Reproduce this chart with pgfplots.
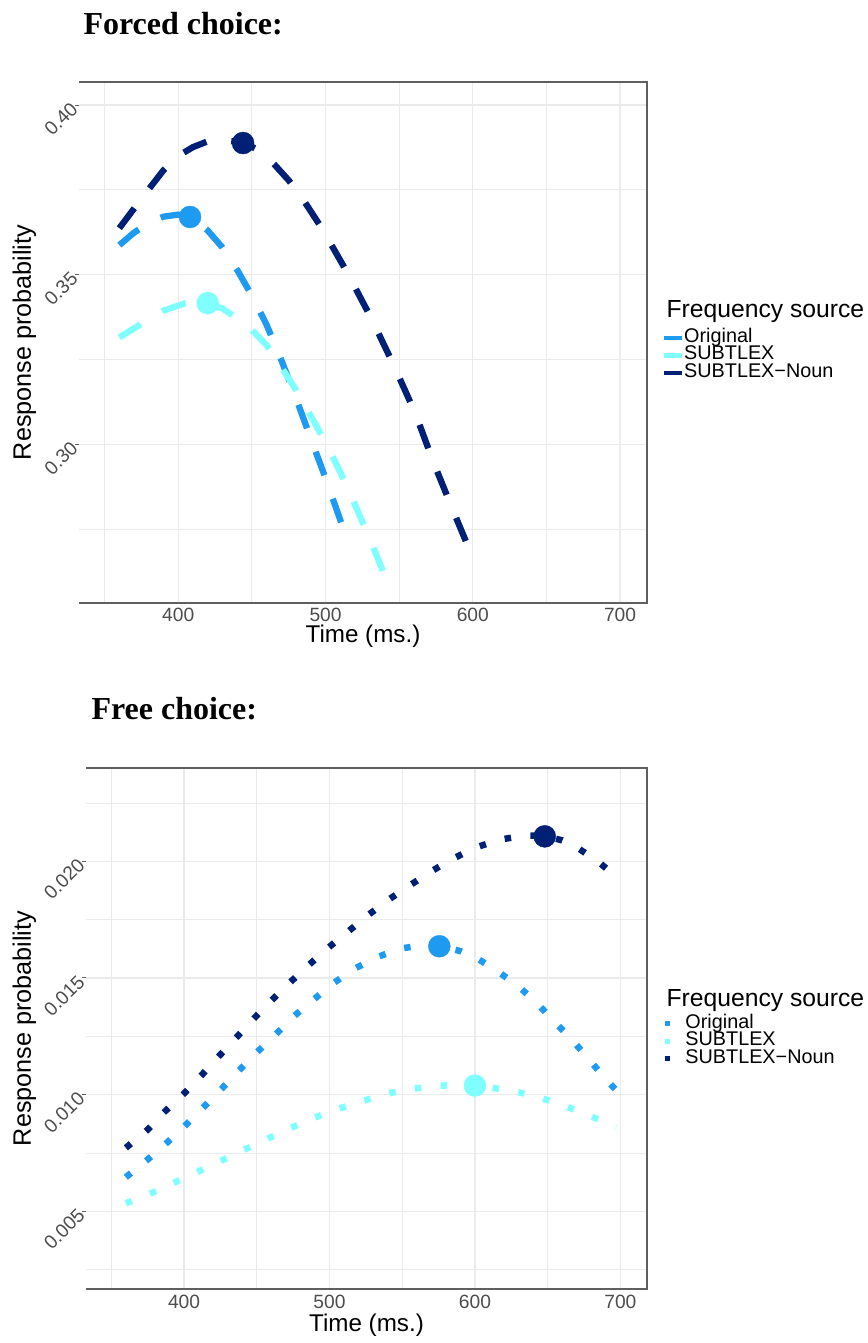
\documentclass[border=0pt]{standalone}
\usepackage{fontspec}
\setmainfont{Liberation Sans}
\newfontfamily\titlefont{Liberation Serif}
\usepackage{pgfplots}
\pgfplotsset{compat=1.18}

\definecolor{cOrig}{RGB}{30,155,240}
\definecolor{cSub}{RGB}{128,255,255}
\definecolor{cNoun}{RGB}{0,32,118}
\definecolor{gridc}{RGB}{235,235,235}
\definecolor{tickc}{RGB}{77,77,77}
\definecolor{framec}{RGB}{95,95,95}

\tikzset{panelframe/.style={draw=framec, line width=1.3pt}}

\pgfplotsset{
  panel/.style={
    scale only axis,
    height=521pt,
    xmin=332.6, xmax=718.3,
    xtick={400,500,600,700},
    xticklabels={400,500,600,700},
    minor xtick={350,450,550,650},
    scaled ticks=false,
    grid=both,
    major grid style={draw=gridc, line width=1.3pt},
    minor grid style={draw=gridc, line width=0.8pt},
    axis line style={draw=none},
    tick align=outside,
    tick pos=left,
    major tick length=4pt, minor tick length=0pt,
    xtick style={draw=none},
    ytick style={draw=framec, line width=1pt},
    tick label style={font=\fontsize{19.2}{20}\selectfont, text=tickc},
    xticklabel style={anchor=base, yshift=-15pt},
    yticklabel style={rotate=45, anchor=east, inner sep=1pt},
    xlabel={Time (ms.)},
    ylabel={Response probability},
    xlabel style={font=\fontsize{24.2}{26}\selectfont},
    ylabel style={font=\fontsize{25.2}{27}\selectfont},
    clip mode=individual,
    legend cell align=left,
    legend style={at={(axis description cs:1,1)}, anchor=north west,
      xshift=15pt, yshift=-247pt, draw=none, fill=none,
      inner sep=0pt, row sep=0pt, column sep=0pt,
      font=\fontsize{19.8}{19.8}\selectfont,
      nodes={inner sep=0pt, text height=13pt, text depth=4.5pt}},
  },
  dashedcurve/.style={line width=6.3pt, dash pattern=on 25pt off 25pt, no marks},
  dottedcurve/.style={line width=6.5pt, dash pattern=on 6.5pt off 19.5pt, no marks},
  peak/.style={only marks, mark=*, mark size=11pt, forget plot},
}

% Forced choice: fitted response curves
\pgfplotstableread{
t p
360 0.3587
370 0.3624
380 0.3653
390 0.3671
400 0.3677
410 0.3667
420 0.3630
430 0.3580
440 0.3514
450 0.3438
460 0.3352
470 0.3248
480 0.3135
490 0.3017
500 0.2900
513 0.2740
}\forcedOrig
\pgfplotstableread{
t p
360 0.3315
375 0.3355
390 0.3394
405 0.3416
420 0.3417
430 0.3400
440 0.3372
450 0.3337
460 0.3292
470 0.3227
480 0.3160
490 0.3084
500 0.3005
510 0.2918
520 0.2822
530 0.2722
540 0.2615
}\forcedSub
\pgfplotstableread{
t p
360 0.3637
370 0.3695
380 0.3752
390 0.3808
400 0.3850
410 0.3876
420 0.3893
430 0.3896
444 0.3890
455 0.3866
465 0.3826
475 0.3778
485 0.3720
497 0.3640
505 0.3580
515 0.3504
531 0.3372
546 0.3236
561 0.3091
573 0.2950
586 0.2811
600 0.2665
}\forcedNoun

% Free choice: fitted response curves
\pgfplotstableread{
t p
360 0.00646
375 0.00722
388.6 0.00796
401 0.00869
414 0.00950
426 0.01026
438 0.01105
450 0.01181
463 0.01258
475.5 0.01336
489 0.01407
503 0.01479
517 0.01539
533 0.01590
549 0.01626
563 0.01640
576 0.01638
590 0.01615
601 0.01586
615.5 0.01529
630 0.01464
643 0.01390
655 0.01310
667 0.01233
679 0.01147
690 0.01065
697 0.01020
}\freeOrig
\pgfplotstableread{
t p
360 0.00534
378 0.00579
394 0.00625
410 0.00671
426 0.00718
442 0.00766
458 0.00813
474 0.00859
490 0.00902
505 0.00937
520 0.00967
540 0.01005
557 0.01025
575 0.01039
600 0.01040
627 0.01015
644 0.00989
661 0.00953
677 0.00915
694 0.00868
697 0.00860
}\freeSub
\pgfplotstableread{
t p
360 0.00772
375 0.00850
387 0.00929
400 0.01005
412 0.01083
424 0.01165
436 0.01245
448 0.01326
460 0.01403
473 0.01482
486 0.01557
499 0.01629
513 0.01700
526 0.01767
540 0.01833
555 0.01896
570 0.01957
585 0.02012
601 0.02060
617 0.02093
635 0.02111
648 0.02108
660 0.02090
669 0.02064
684 0.02002
697 0.01935
}\freeNoun

\begin{document}
\begin{tikzpicture}[x=1pt, y=1pt]
\useasboundingbox (0,0) rectangle (867,1343);

\node[anchor=base west, font=\titlefont\bfseries\fontsize{32}{36}\selectfont]
  at (80,1308) {Forced choice:};
\node[anchor=base west, font=\titlefont\bfseries\fontsize{32}{36}\selectfont]
  at (88,623) {Free choice:};

\node[anchor=base west, font=\fontsize{24.7}{26}\selectfont] at (663,1025) {Frequency source};
\node[anchor=base west, font=\fontsize{24.7}{26}\selectfont] at (663,336.3) {Frequency source};

% Forced choice panel
\begin{axis}[panel,
  at={(79pt,740pt)}, anchor=south west,
  width=568pt,
  ymin=0.2532, ymax=0.4068,
  ytick={0.30,0.35,0.40}, yticklabels={0.30,0.35,0.40},
  minor ytick={0.275,0.325,0.375},
  xlabel style={at={([yshift=-40pt]axis description cs:0.5,0)}, anchor=base},
  ylabel style={at={([xshift=-48pt]axis description cs:0,0.5)}, anchor=base},
  legend image code/.code={\draw[solid, line width=4.5pt] (0pt,0pt) -- (17.5pt,0pt);},
]
\addplot[cOrig, dashedcurve] table[x=t, y=p] {\forcedOrig};
\addlegendentry{Original}
\addplot[cSub, dashedcurve] table[x=t, y=p] {\forcedSub};
\addlegendentry{SUBTLEX}
\addplot[cNoun, dashedcurve] table[x=t, y=p] {\forcedNoun};
\addlegendentry{SUBTLEX−Noun}
\addplot[cOrig, peak] coordinates {(408,0.3670)};
\addplot[cSub, peak] coordinates {(420,0.3416)};
\addplot[cNoun, peak] coordinates {(444,0.3888)};
\draw[panelframe] (rel axis cs:0,1) -- (rel axis cs:1,1) -- (rel axis cs:1,0) -- (rel axis cs:0,0);
\end{axis}

% Free choice panel
\begin{axis}[panel,
  at={(86pt,54pt)}, anchor=south west,
  width=561pt,
  ymin=0.00167, ymax=0.0240,
  ytick={0.005,0.010,0.015,0.020}, yticklabels={0.005,0.010,0.015,0.020},
  minor ytick={0.0025,0.0075,0.0125,0.0175,0.0225},
  xlabel style={at={([yshift=-42pt]axis description cs:0.5,0)}, anchor=base},
  ylabel style={at={([xshift=-55pt]axis description cs:0,0.5)}, anchor=base},
  legend image code/.code={\draw[solid, line width=5pt] (0pt,0pt) -- (5pt,0pt); \path (17.5pt,0pt);},
]
\addplot[cOrig, dottedcurve] table[x=t, y=p] {\freeOrig};
\addlegendentry{Original}
\addplot[cSub, dottedcurve] table[x=t, y=p] {\freeSub};
\addlegendentry{SUBTLEX}
\addplot[cNoun, dottedcurve] table[x=t, y=p] {\freeNoun};
\addlegendentry{SUBTLEX−Noun}
\addplot[cOrig, peak] coordinates {(575.5,0.01636)};
\addplot[cSub, peak] coordinates {(600,0.01039)};
\addplot[cNoun, peak] coordinates {(648,0.02107)};
\draw[panelframe] (rel axis cs:0,1) -- (rel axis cs:1,1) -- (rel axis cs:1,0) -- (rel axis cs:0,0);
\end{axis}
\end{tikzpicture}
\end{document}
